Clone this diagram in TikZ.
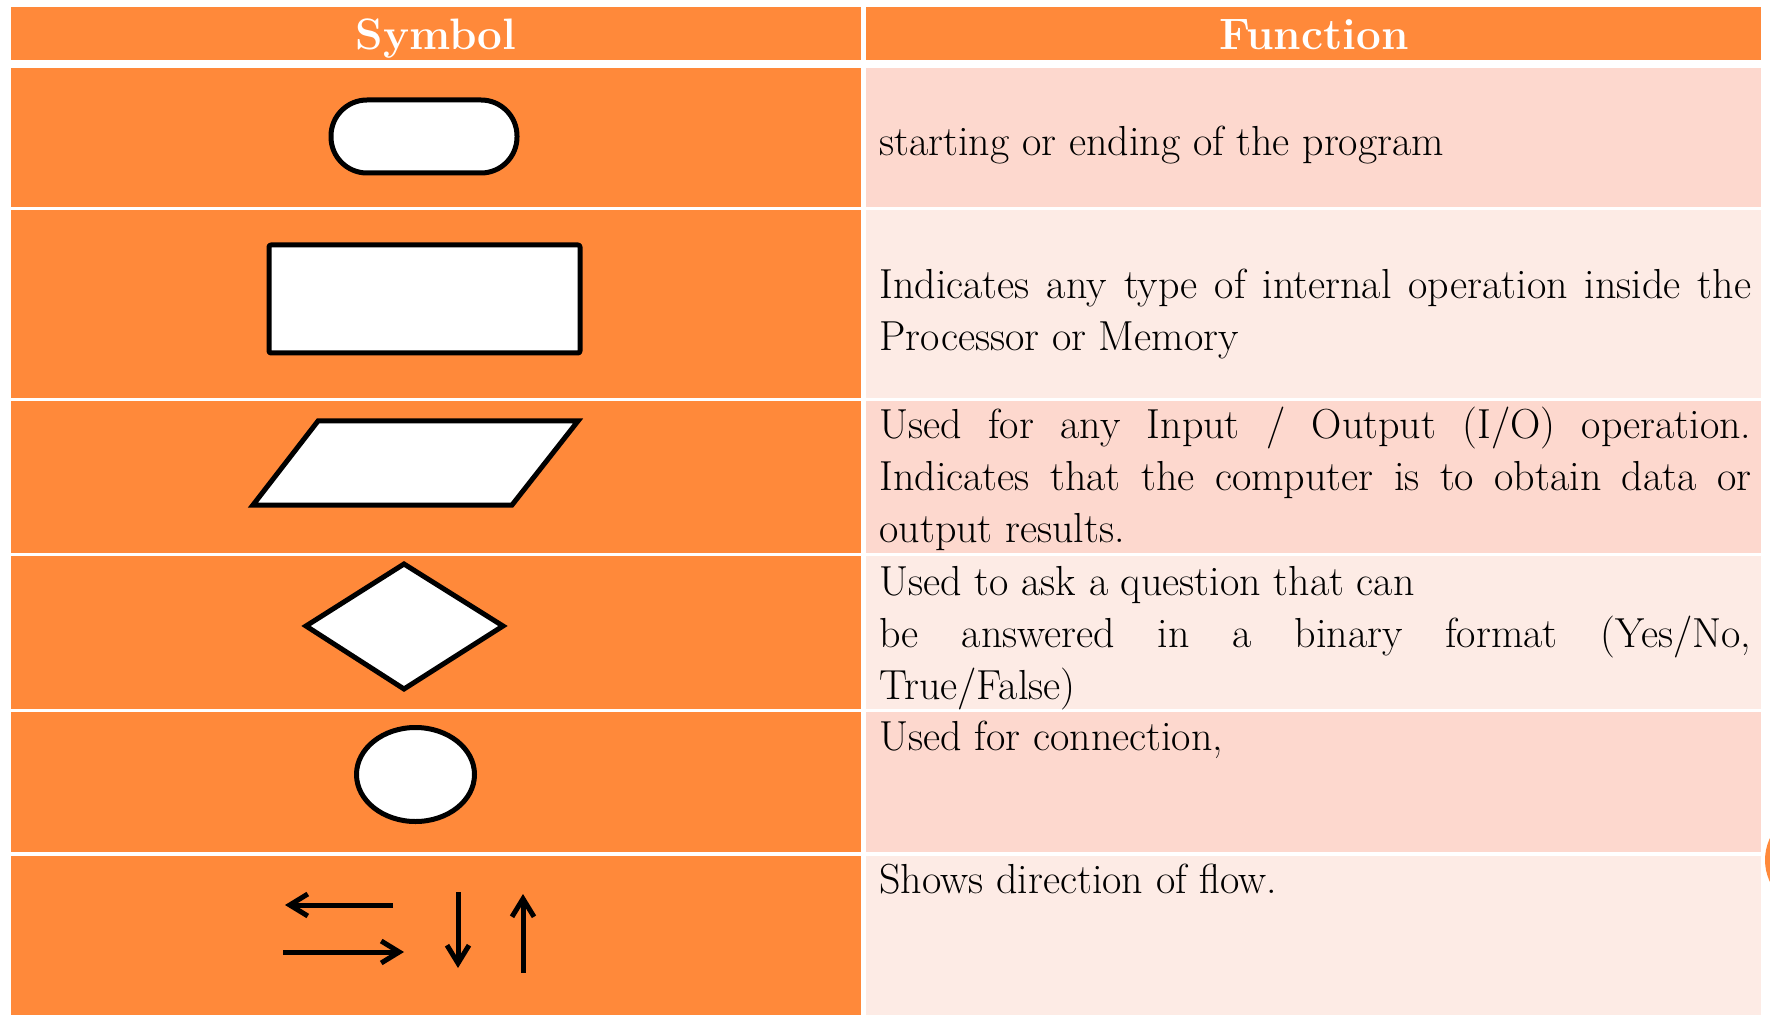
\documentclass[tikz,border=0pt]{standalone}
\usepackage{amsmath,amssymb,amsfonts}
\usetikzlibrary{arrows.meta}

\definecolor{symOrange}{RGB}{255,137,58}
\definecolor{rowPink}{RGB}{253,216,206}
\definecolor{rowPale}{RGB}{253,235,229}

\newcommand{\hdfont}{\fontsize{22}{26}\selectfont\bfseries}
\newcommand{\txfont}{\fontsize{21}{26}\selectfont}

\begin{document}
\begin{tikzpicture}[x=0.5pt,y=0.5pt,yscale=-1,xscale=1,
  symcell/.style={fill=symOrange},
  pinkcell/.style={fill=rowPink},
  palecell/.style={fill=rowPale},
  symbol/.style={draw=black,fill=white,line width=2.5pt,line join=round},
  flow/.style={draw=black,line width=2.5pt,-{Straight Barb[length=9pt,width=11pt,line width=2.5pt]}},
  hdtext/.style={anchor=base,inner sep=0pt,text=white,font=\hdfont},
  fntext/.style={anchor=north west,inner sep=0pt,text width=436pt,align=justify,font=\txfont}]
\useasboundingbox (0,0) rectangle (1770,1015);
\fill[white] (0,0) rectangle (1770,1015);

%Header row
\fill[symcell] (11,7) rectangle (861,60);
\fill[symcell] (866,7) rectangle (1761,60);
% Text Node
\draw (436,50) node [hdtext] (hdSym) {Symbol};
% Text Node
\draw (1314,50) node [hdtext] (hdFun) {Function};

%Body cells, left column
\fill[symcell] (11,68) rectangle (861,207);
\fill[symcell] (11,210) rectangle (861,398);
\fill[symcell] (11,401) rectangle (861,553);
\fill[symcell] (11,556) rectangle (861,709);
\fill[symcell] (11,712) rectangle (861,852);
\fill[symcell] (11,856) rectangle (861,1015);
%Body cells, right column
\fill[pinkcell] (866,68) rectangle (1761,207);
\fill[palecell] (866,210) rectangle (1761,398);
\fill[pinkcell] (866,401) rectangle (1761,553);
\fill[palecell] (866,556) rectangle (1761,709);
\fill[pinkcell] (866,712) rectangle (1761,852);
\fill[palecell] (866,856) rectangle (1761,1015);

%Shape: Terminal
\draw [symbol,rounded corners=18pt] (331,100) rectangle (517,173);
%Shape: Process
\draw [symbol,rounded corners=1pt] (269,245) rectangle (580,353);
%Shape: Input/Output
\draw [symbol,line join=miter] (253,505) -- (318,421) -- (578,421) -- (512,505) -- cycle;
%Shape: Decision
\draw [symbol,line join=miter] (404,564) -- (503,626) -- (404,689) -- (306,626) -- cycle;
%Shape: Connector
\draw [symbol] (415.5,774.5) ellipse [x radius=29.5pt,y radius=23.5pt];
%Shape: Flow lines
\draw [flow] (393,905) -- (285,905);
\draw [flow] (283,952) -- (404,952);
\draw [flow] (458,892) -- (458,968);
\draw [flow] (523,973) -- (523,894);

% Text Node
\draw (879,118.6) node [fntext] (fnTerm) {\strut starting or ending of the program};
% Text Node
\draw (879,261.6) node [fntext] (fnProc) {\strut Indicates any type of internal operation inside the\linebreak Processor or Memory};
% Text Node
\draw (879,401.6) node [fntext] (fnIO) {\strut Used for any Input / Output (I/O) operation.\linebreak Indicates that the computer is to obtain data or\linebreak output results.};
% Text Node
\draw (879,558.6) node [fntext] (fnDec) {\strut Used to ask a question that can\\ be answered in a binary format (Yes/No,\linebreak True/False)};
% Text Node
\draw (879,713.6) node [fntext] (fnConn) {\strut Used for connection,};
% Text Node
\draw (879,856.6) node [fntext] (fnFlow) {\strut Shows direction of flow.};

%Slide edge mark
\begin{scope}
\clip (0,0) rectangle (1770,1015);
\fill[symOrange] (1816,860) circle [radius=25.5pt];
\end{scope}

\end{tikzpicture}
\end{document}
